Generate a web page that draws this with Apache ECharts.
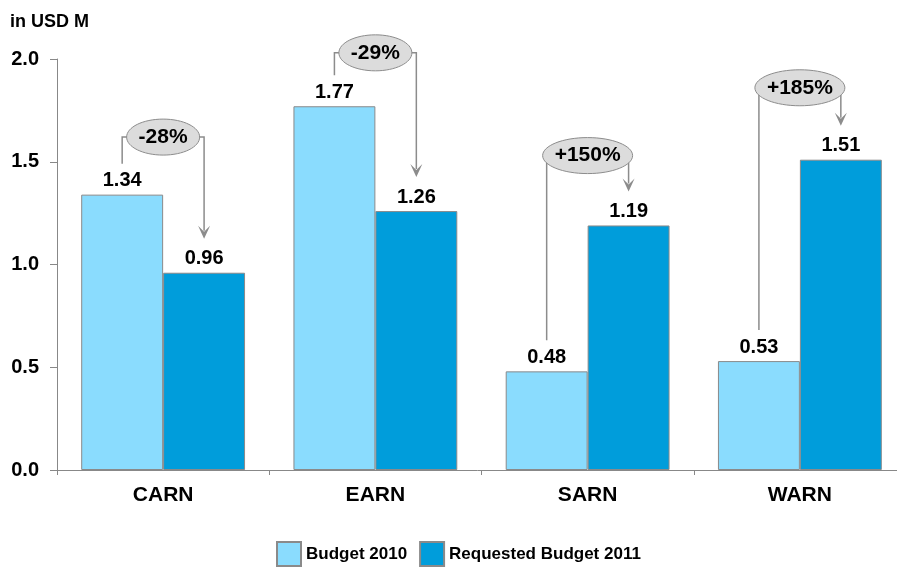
<!DOCTYPE html>
<html>
<head>
    <meta charset="utf-8">
    <title>Budget 2010 vs Requested Budget 2011</title>
    <script src="https://cdn.jsdelivr.net/npm/echarts@6/dist/echarts.min.js"></script>
    <style>
        html, body { margin: 0; padding: 0; background: #fff; }
    </style>
</head>
<body>
    <div id="main" style="width: 897px;height:568px;"></div>

    <script type="text/javascript">
        // chart data
        var categories = ['CARN', 'EARN', 'SARN', 'WARN']
        var budget2010 = [1.34, 1.77, 0.48, 0.53]
        var requested2011 = [0.96, 1.26, 1.19, 1.51]
        // change bubbles: text and the value level they sit at
        var changeLabels = ['-28%', '-29%', '+150%', '+185%']
        var bubbleLevels = [1.62, 2.03, 1.53, 1.86]

        var FONT = 'Liberation Sans, Arial, sans-serif'
        var BAR_RATIO = 0.386

        // measure text so the bubble fits it
        var measure = function(text) {
            var ctx = document.createElement('canvas').getContext('2d')
            ctx.font = 'bold 21px ' + FONT
            return ctx.measureText(text).width
        }

        var renderBubble = function(params, api) {
            var idx = api.value(0)
            var c = api.coord([idx, api.value(3)])
            var band = api.size([1, 0])[0]
            var off = band * BAR_RATIO / 2
            var topL = api.coord([idx, api.value(1)])[1]
            var topR = api.coord([idx, api.value(2)])[1]
            var xl = c[0] - off
            var xr = c[0] + off
            var tip = topR - 34
            var text = changeLabels[idx]
            var rx = measure(text) / 2 + 12
            var ry = 18
            return {
                type: 'group',
                children: [
                    {
                        type: 'polyline',
                        shape: { points: [[xl, topL - 31], [xl, c[1]], [xr, c[1]], [xr, tip - 8]] },
                        style: { stroke: '#8c8c8c', lineWidth: 1.5, fill: null }
                    },
                    {
                        type: 'polygon',
                        shape: { points: [[xr - 6, tip - 13], [xr, tip - 7], [xr + 6, tip - 13], [xr, tip]] },
                        style: { fill: '#8c8c8c' }
                    },
                    {
                        type: 'ellipse',
                        shape: { cx: c[0], cy: c[1], rx: rx, ry: ry },
                        style: { fill: '#dcdcdc', stroke: '#8c8c8c', lineWidth: 1 }
                    },
                    {
                        type: 'text',
                        x: c[0],
                        y: c[1],
                        style: {
                            text: text,
                            fill: '#000',
                            font: 'bold 21px ' + FONT,
                            align: 'center',
                            verticalAlign: 'middle'
                        }
                    }
                ]
            }
        }

        var drawChart = function() {
            var myChart = echarts.init(document.getElementById('main'))
            var bubbleData = categories.map(function(c, i) {
                return [i, budget2010[i], requested2011[i], bubbleLevels[i]]
            })
            var valueLabel = {
                show: true,
                position: 'top',
                distance: 4,
                color: '#000',
                fontSize: 20,
                fontWeight: 'bold',
                fontFamily: FONT,
                formatter: function(p) { return p.value.toFixed(2) }
            }
            var option = {
                animation: false,
                textStyle: { fontFamily: FONT },
                title: {
                    text: 'in USD M',
                    left: 10,
                    top: 13,
                    padding: 0,
                    textStyle: { fontSize: 18, fontWeight: 'bold', color: '#000', fontFamily: FONT }
                },
                legend: {
                    data: ['Budget 2010', 'Requested Budget 2011'],
                    left: 276,
                    top: 541,
                    padding: 0,
                    itemWidth: 24,
                    itemHeight: 24,
                    itemGap: 12,
                    icon: 'rect',
                    textStyle: { fontSize: 17, fontWeight: 'bold', color: '#000', fontFamily: FONT }
                },
                grid: {
                    left: 57,
                    right: -9,
                    top: 59,
                    bottom: 98,
                    outerBoundsMode: 'none'
                },
                xAxis: {
                    type: 'category',
                    data: categories,
                    axisLine: { lineStyle: { color: '#888', width: 1 } },
                    axisTick: { show: true, length: 5, lineStyle: { color: '#888' } },
                    axisLabel: {
                        margin: 15,
                        color: '#000',
                        fontSize: 21,
                        fontWeight: 'bold',
                        fontFamily: FONT
                    }
                },
                yAxis: {
                    type: 'value',
                    min: 0,
                    max: 2,
                    interval: 0.5,
                    splitLine: { show: false },
                    axisLine: { show: true, lineStyle: { color: '#888', width: 1 } },
                    axisTick: { show: true, length: 7, lineStyle: { color: '#888' } },
                    axisLabel: {
                        margin: 18,
                        color: '#000',
                        fontSize: 20,
                        fontWeight: 'bold',
                        fontFamily: FONT,
                        formatter: function(v) { return v.toFixed(1) }
                    }
                },
                series: [
                    {
                        name: 'Budget 2010',
                        type: 'bar',
                        barWidth: (BAR_RATIO * 100) + '%',
                        barGap: '0%',
                        itemStyle: { color: '#8adcfe', borderColor: '#8a8a8a', borderWidth: 1 },
                        label: valueLabel,
                        data: budget2010
                    },
                    {
                        name: 'Requested Budget 2011',
                        type: 'bar',
                        barWidth: (BAR_RATIO * 100) + '%',
                        barGap: '0%',
                        itemStyle: { color: '#009ddb', borderColor: '#8a8a8a', borderWidth: 1 },
                        label: valueLabel,
                        data: requested2011
                    },
                    {
                        name: 'change',
                        type: 'custom',
                        renderItem: renderBubble,
                        encode: { x: 0, y: 3 },
                        z: 5,
                        data: bubbleData
                    }
                ]
            }
            myChart.setOption(option)
        }

        drawChart()
    </script>
</body>
</html>
